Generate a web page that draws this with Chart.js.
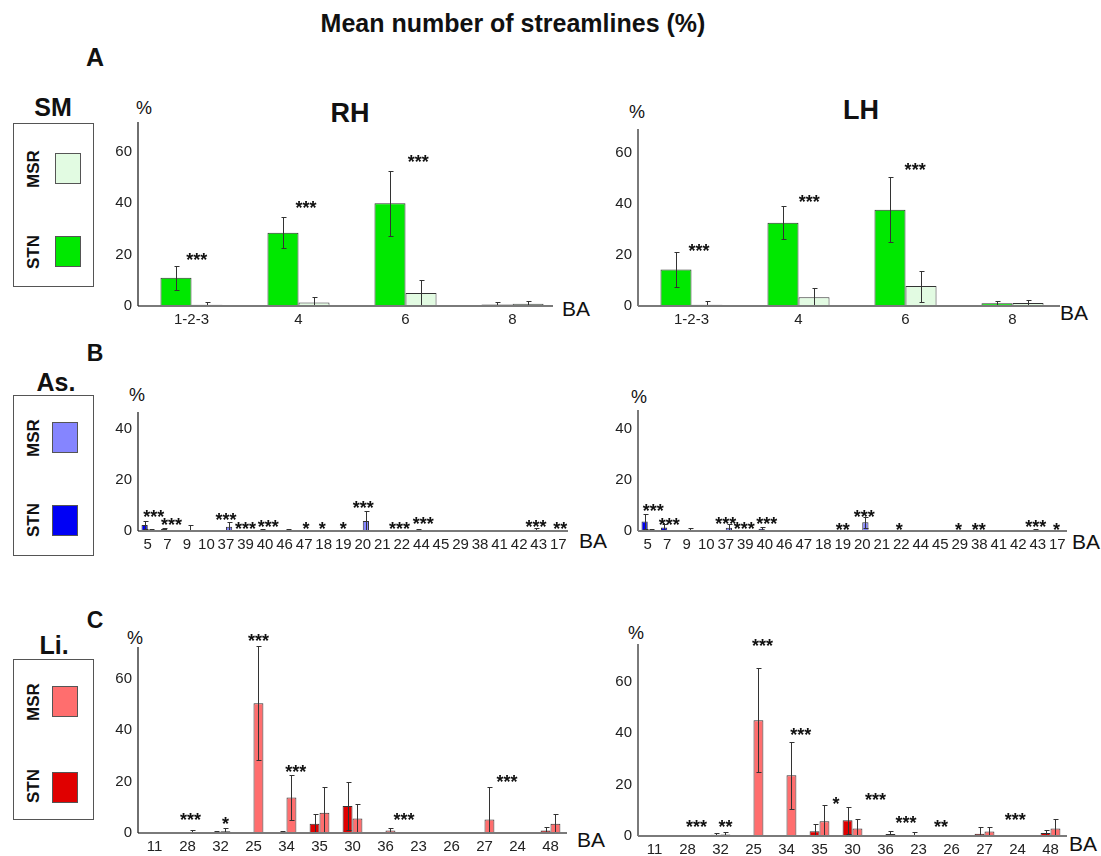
<!DOCTYPE html>
<html>
<head>
<meta charset="utf-8">
<script src="https://cdn.jsdelivr.net/npm/chart.js@4.4.0/dist/chart.umd.min.js"></script>
<style>
  body { margin: 0; background: #fff; width: 1101px; height: 856px; position: relative; overflow: hidden;
         font-family: "Liberation Sans", Arial, sans-serif; color: #111; }
  .c { position: absolute; transform: translate(-50%, -50%); white-space: nowrap; line-height: 1; }
  .l { position: absolute; transform: translateY(-50%); white-space: nowrap; line-height: 1; }
  .b { font-weight: bold; }
  .box { position: absolute; border: 1px solid #555; box-sizing: border-box; }
  .sw { position: absolute; border: 1px solid #555; box-sizing: border-box; }
  .rot { position: absolute; transform: translate(-50%, -50%) rotate(-90deg); font-weight: bold; font-size: 17px; line-height: 1; }
  canvas { position: absolute; }
</style>
</head>
<body>

<div class="c b" style="left:513px;top:23px;font-size:25px">Mean number of streamlines (%)</div>
<div class="c b" style="left:95px;top:57px;font-size:25px">A</div>
<div class="c b" style="left:350px;top:113px;font-size:27px">RH</div>
<div class="c b" style="left:861px;top:110px;font-size:27px">LH</div>
<div class="c b" style="left:95px;top:353px;font-size:23px">B</div>
<div class="c b" style="left:95px;top:620px;font-size:23px">C</div>

<!-- legend boxes -->
<div class="c b" style="left:53px;top:107px;font-size:25px">SM</div>
<div class="box" style="left:13px;top:123px;width:81px;height:164px"></div>
<div class="sw" style="left:55px;top:153px;width:26px;height:31px;background:#e2fbe2"></div>
<div class="sw" style="left:55px;top:236px;width:26px;height:31px;background:#00e800"></div>
<div class="rot" style="left:33px;top:169px">MSR</div>
<div class="rot" style="left:33px;top:252px">STN</div>

<div class="c b" style="left:56px;top:382px;font-size:25px">As.</div>
<div class="box" style="left:13px;top:395px;width:81px;height:161px"></div>
<div class="sw" style="left:52px;top:422px;width:26px;height:31px;background:#8585ff"></div>
<div class="sw" style="left:52px;top:505px;width:26px;height:31px;background:#0000f5"></div>
<div class="rot" style="left:33px;top:438px">MSR</div>
<div class="rot" style="left:33px;top:520px">STN</div>

<div class="c b" style="left:54px;top:645px;font-size:25px">Li.</div>
<div class="box" style="left:13px;top:659px;width:81px;height:161px"></div>
<div class="sw" style="left:52px;top:686px;width:26px;height:31px;background:#ff6e6e"></div>
<div class="sw" style="left:52px;top:772px;width:26px;height:31px;background:#e00000"></div>
<div class="rot" style="left:33px;top:702px">MSR</div>
<div class="rot" style="left:33px;top:786px">STN</div>

<!-- axis unit labels -->
<div class="c" style="left:144px;top:108px;font-size:18px">%</div>
<div class="c" style="left:637px;top:112px;font-size:18px">%</div>
<div class="c" style="left:137px;top:395px;font-size:18px">%</div>
<div class="c" style="left:639px;top:397px;font-size:18px">%</div>
<div class="c" style="left:135px;top:638px;font-size:18px">%</div>
<div class="c" style="left:636px;top:633px;font-size:18px">%</div>
<div class="l" style="left:562px;top:308px;font-size:21px">BA</div>
<div class="l" style="left:1060px;top:312px;font-size:21px">BA</div>
<div class="l" style="left:579px;top:540px;font-size:21px">BA</div>
<div class="l" style="left:1072px;top:541px;font-size:21px">BA</div>
<div class="l" style="left:577px;top:839px;font-size:21px">BA</div>
<div class="l" style="left:1069px;top:843px;font-size:21px">BA</div>

<script>
// ---- A: sensorimotor ----
const smLabels = ['1-2-3', '4', '6', '8'];
const smStnRH = [11, 28.5, 40, 0.6];
const smStnErrRH = [4.7, 6, 12.7, 0.9];
const smMsrRH = [0.5, 1.4, 5.1, 0.9];
const smMsrErrRH = [1.2, 2.2, 5.2, 1.2];
const smStnLH = [14.3, 32.6, 37.7, 1.1];
const smStnErrLH = [6.8, 6.5, 12.7, 1];
const smMsrLH = [0.5, 3.4, 7.8, 1.2];
const smMsrErrLH = [1.6, 3.6, 6.1, 1.2];
// [category position, value, text]
const smStarsRH = [[0.05, 19.7, '***'], [1.07, 40, '***'], [2.12, 58, '***']];
const smStarsLH = [[0.07, 23.5, '***'], [1.1, 42.4, '***'], [2.09, 54.9, '***']];

// ---- B: associative ----
const asLabels = ['5', '7', '9', '10', '37', '39', '40', '46', '47', '18', '19', '20', '21', '22', '44', '45', '29', '38', '41', '42', '43', '17'];
const asStnRH = [2.4, 0.8, 0.2, 0, 0.2, 0.2, 0.4, 0.1, 0.1, 0.1, 0.3, 0, 0.2, 0.1, 0.4, 0, 0.1, 0.1, 0, 0, 0.5, 0.1];
const asStnErrRH = [1.7, 0.4, 0.2, 0, 0.1, 0.1, 0.2, 0.1, 0, 0, 0.2, 0, 0.1, 0, 0.2, 0, 0, 0, 0, 0, 0.8, 0];
const asMsrRH = [0.3, 0.2, 0.3, 0, 1.7, 0.2, 0.2, 0.3, 0.1, 0.1, 0.2, 3.9, 0.1, 0.1, 0.1, 0, 0, 0.1, 0, 0, 0.1, 0.1];
const asMsrErrRH = [0.3, 0.2, 1.9, 0, 1.7, 0.2, 0.1, 0.4, 0, 0, 0.2, 3.8, 0, 0, 0.1, 0, 0, 0, 0, 0, 0.1, 0];
const asStnLH = [3.7, 1.4, 0.3, 0, 0.1, 0.2, 0.9, 0.1, 0, 0.1, 0.2, 0, 0.1, 0.1, 0.1, 0.1, 0.1, 0.2, 0, 0, 0.4, 0.1];
const asStnErrLH = [3, 1.2, 0.2, 0, 0, 0.1, 0.5, 0, 0, 0, 0.1, 0, 0, 0, 0, 0, 0, 0.1, 0, 0, 0.3, 0];
const asMsrLH = [0.4, 0.2, 0.5, 0, 1.3, 0.1, 0.1, 0.1, 0, 0, 0.2, 3.4, 0, 0, 0.1, 0, 0, 0.1, 0, 0, 0.1, 0];
const asMsrErrLH = [0.5, 0.2, 0.8, 0, 1.4, 0.1, 0.1, 0, 0, 0, 0.1, 2.2, 0, 0, 0, 0, 0, 0, 0, 0, 0, 0];
const asStarsRH = [[0.3, 7.3, '***'], [1.22, 4.3, '***'], [4.0, 5.9, '***'], [5.0, 2.6, '***'], [6.17, 3.3, '***'],
  [8.1, 2.4, '*'], [8.93, 2.4, '*'], [10, 2.4, '*'], [11.03, 10.9, '***'], [12.88, 2.4, '***'], [14.1, 4.6, '***'],
  [19.86, 3.3, '***'], [21.1, 2.4, '**']];
const asStarsLH = [[0.28, 9.5, '***'], [1.1, 4.3, '***'], [4.0, 4.6, '***'], [4.95, 2.4, '***'], [6.1, 4.6, '***'],
  [10, 2.1, '**'], [11.1, 7.3, '***'], [12.9, 2.1, '*'], [15.93, 2.1, '*'], [16.97, 2.1, '**'], [19.9, 3.3, '***'],
  [20.96, 2.1, '*']];

// ---- C: limbic ----
const liLabels = ['11', '28', '32', '25', '34', '35', '30', '36', '23', '26', '27', '24', '48'];
const liStnRH = [0, 0.1, 0.4, 0.1, 0.4, 3.6, 10.5, 0.1, 0.2, 0.1, 0.2, 0.1, 1.0];
const liStnErrRH = [0, 0, 0.3, 0, 0.5, 3.9, 9.5, 0, 0.1, 0, 0.1, 0, 1.2];
const liMsrRH = [0, 0.3, 0.7, 50.4, 13.8, 7.9, 5.6, 1.0, 0.1, 0, 5.2, 0.1, 3.6];
const liMsrErrRH = [0, 0.7, 1.1, 22.2, 8.7, 10, 5.8, 1.1, 0, 0, 12.7, 0, 3.7];
const liStnLH = [0, 0, 0.5, 0.1, 0.1, 1.8, 6.1, 0.1, 0.3, 0.1, 0.9, 0.1, 1.2];
const liStnErrLH = [0, 0, 0.5, 0, 0, 2.7, 5.2, 0, 1.1, 0, 2.6, 0, 1.1];
const liMsrLH = [0, 0.2, 0.6, 45, 23.6, 5.7, 2.9, 0.8, 0.1, 0.1, 1.7, 0.1, 2.9];
const liMsrErrLH = [0, 0, 0.8, 20.3, 13, 6.4, 3.6, 1.1, 0, 0, 1.8, 0, 3.6];
const liStarsRH = [[1.09, 6.6, '***'], [2.15, 5.4, '*'], [3.15, 76.3, '***'], [4.28, 25.4, '***'], [7.56, 6.6, '***'], [10.68, 21.6, '***']];
const liStarsLH = [[1.27, 5.3, '***'], [2.15, 5.3, '**'], [3.27, 75.6, '***'], [4.43, 41, '***'], [5.5, 14.3, '*'],
  [6.7, 15.6, '***'], [7.62, 6.6, '***'], [8.68, 5.3, '**'], [10.93, 7.9, '***']];

const PAD_L = 45, PAD_T = 16, PAD_R = 14, PAD_B = 30;
const STAR_SIZE = 18;

// error bars, axis lines and significance stars
function overlay(errs, stars, trim, yAxisColor, yAxisWidth) {
  return {
    id: 'overlay',
    afterDatasetsDraw(chart) {
      const { ctx, chartArea: a, scales: { x, y } } = chart;
      ctx.save();
      ctx.strokeStyle = '#333';
      ctx.lineWidth = 1;
      chart.data.datasets.forEach((ds, i) => {
        chart.getDatasetMeta(i).data.forEach((bar, j) => {
          const e = errs[i][j];
          if (!e) return;
          const v = ds.data[j];
          const bx = Math.round(bar.x) + 0.5;
          const yt = Math.round(y.getPixelForValue(v + e)) + 0.5;
          const yb = Math.round(y.getPixelForValue(Math.max(v - e, 0))) + 0.5;
          ctx.beginPath();
          ctx.moveTo(bx, yt); ctx.lineTo(bx, yb);
          ctx.moveTo(bx - 2, yt); ctx.lineTo(bx + 3, yt);
          if (v - e > 0) { ctx.moveTo(bx - 2, yb); ctx.lineTo(bx + 3, yb); }
          ctx.stroke();
        });
      });

      ctx.strokeStyle = '#7a7a7a';
      ctx.lineWidth = 2;
      ctx.beginPath();
      ctx.moveTo(a.left, a.bottom);
      ctx.lineTo(a.right - trim, a.bottom);
      ctx.stroke();
      ctx.strokeStyle = yAxisColor;
      ctx.lineWidth = yAxisWidth;
      ctx.beginPath();
      ctx.moveTo(a.left, a.top);
      ctx.lineTo(a.left, a.bottom);
      ctx.stroke();

      ctx.fillStyle = '#111';
      ctx.font = 'bold ' + STAR_SIZE + 'px "Liberation Sans", Arial, sans-serif';
      ctx.textAlign = 'center';
      ctx.textBaseline = 'alphabetic';
      stars.forEach(([c, v, s]) => {
        ctx.fillText(s, x.getPixelForValue(c), y.getPixelForValue(v) + STAR_SIZE * 0.58);
      });
      ctx.restore();
    }
  };
}

// area = [left, top, right, bottom, end of x axis line] in page pixels
function panel(area, labels, stn, stnErr, msr, msrErr, stars, ymax, colors, groupPct, side) {
  const [left, top, right, bottom, axisEnd] = area;
  const cv = document.createElement('canvas');
  cv.width = right - left + PAD_L + PAD_R;
  cv.height = bottom - top + PAD_T + PAD_B;
  cv.style.left = (left - PAD_L) + 'px';
  cv.style.top = (top - PAD_T) + 'px';
  document.body.appendChild(cv);

  const tickFont = { family: '"Liberation Sans", Arial, sans-serif', size: 15 };
  new Chart(cv.getContext('2d'), {
    type: 'bar',
    data: {
      labels: labels,
      datasets: [
        { label: 'STN', data: stn, backgroundColor: colors[0] },
        { label: 'MSR', data: msr, backgroundColor: colors[1] }
      ]
    },
    options: {
      responsive: false,
      animation: false,
      events: [],
      layout: { padding: { left: 0, top: PAD_T, right: PAD_R, bottom: 0 } },
      datasets: {
        bar: {
          borderColor: '#333',
          borderWidth: 1,
          categoryPercentage: groupPct,
          barPercentage: 1
        }
      },
      plugins: { legend: { display: false }, tooltip: { enabled: false } },
      scales: {
        x: {
          grid: { display: false, drawTicks: false },
          border: { display: false },
          ticks: { color: '#222', font: tickFont, padding: 5, autoSkip: false, maxRotation: 0, minRotation: 0 },
          afterFit: s => { s.height = PAD_B; }
        },
        y: {
          min: 0,
          max: ymax,
          grid: { display: false, drawTicks: false },
          border: { display: false },
          ticks: { stepSize: 20, includeBounds: false, color: '#222', font: tickFont, padding: 6 },
          afterFit: s => { s.width = PAD_L; }
        }
      }
    },
    plugins: [overlay([stnErr, msrErr], stars, right - axisEnd,
      side === 'R' ? '#222' : '#7a7a7a', side === 'R' ? 1.3 : 2)]
  });
}

const smColors = ['#00e800', '#e2fbe2'];
const asColors = ['#0000f5', '#8585ff'];
const liColors = ['#e00000', '#ff6e6e'];

panel([138, 122, 566, 306, 553], smLabels, smStnRH, smStnErrRH, smMsrRH, smMsrErrRH, smStarsRH, 71.7, smColors, 0.58, 'R');
panel([638, 129, 1066, 306, 1060], smLabels, smStnLH, smStnErrLH, smMsrLH, smMsrErrLH, smStarsLH, 69.4, smColors, 0.58, 'L');
panel([138, 412, 568, 531, 568], asLabels, asStnRH, asStnErrRH, asMsrRH, asMsrErrRH, asStarsRH, 46.8, asColors, 0.64, 'R');
panel([638, 410, 1067, 531, 1067], asLabels, asStnLH, asStnErrLH, asMsrLH, asMsrErrLH, asStarsLH, 47.6, asColors, 0.64, 'L');
panel([138, 647, 567, 833, 567], liLabels, liStnRH, liStnErrRH, liMsrRH, liMsrErrRH, liStarsRH, 72.3, liColors, 0.6, 'R');
panel([638, 644, 1067, 836, 1067], liLabels, liStnLH, liStnErrLH, liMsrLH, liMsrErrLH, liStarsLH, 74.6, liColors, 0.6, 'L');
</script>
</body>
</html>
